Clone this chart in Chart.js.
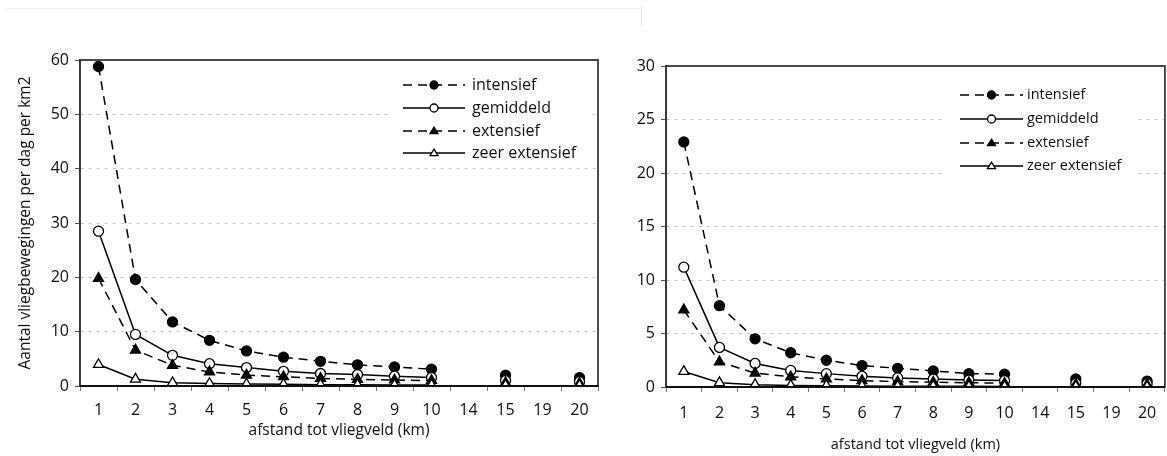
<!DOCTYPE html>
<html>
<head>
<meta charset="utf-8">
<script src="https://cdn.jsdelivr.net/npm/chart.js@4"></script>
<style>
  html, body { margin:0; padding:0; background:#fff; overflow:hidden; width:1167px; height:456px; }
  canvas { position:absolute; top:0; }
  #c1 { left:0; }
  #c2 { left:600px; }
  .faintv { position:absolute; left:641px; top:6px; width:1px; height:20px; background:#e2e2e2; }
  .fainth { position:absolute; left:6px; top:8px; width:635px; height:1px; background:#f2f2f2; }
</style>
</head>
<body>
<div class="fainth"></div>
<div class="faintv"></div>
<canvas id="c1" width="640" height="456"></canvas>
<canvas id="c2" width="572" height="456"></canvas>
<script>
// ---- data ----
const categories = ['1','2','3','4','5','6','7','8','9','10','14','15','19','20'];
const seriesNames = ['intensief','gemiddeld','extensief','zeer extensief'];

// left panel
const leftIntensief = [58.8, 19.6, 11.8, 8.4, 6.45, 5.3, 4.55, 3.9, 3.5, 3.1, null, 2.0, null, 1.55];
const leftGemiddeld = [28.5, 9.5, 5.65, 4.1, 3.4, 2.7, 2.3, 2.1, 1.8, 1.55, null, 1.0, null, 0.8];
const leftExtensief = [19.8, 6.6, 3.8, 2.6, 2.0, 1.7, 1.4, 1.2, 1.1, 1.0, null, 0.6, null, 0.5];
const leftZeerExtensief = [3.95, 1.25, 0.6, 0.45, 0.35, 0.3, 0.25, 0.22, 0.2, 0.18, null, 0.12, null, 0.1];

// right panel
const rightIntensief = [22.9, 7.6, 4.5, 3.2, 2.5, 2.0, 1.75, 1.5, 1.25, 1.2, null, 0.75, null, 0.55];
const rightGemiddeld = [11.2, 3.7, 2.2, 1.55, 1.25, 1.0, 0.85, 0.75, 0.65, 0.6, null, 0.35, null, 0.3];
const rightExtensief = [7.2, 2.35, 1.3, 0.95, 0.75, 0.6, 0.5, 0.45, 0.4, 0.35, null, 0.25, null, 0.2];
const rightZeerExtensief = [1.45, 0.4, 0.22, 0.15, 0.12, 0.1, 0.08, 0.07, 0.06, 0.05, null, 0.04, null, 0.03];

const leftYMax = 60, leftYStep = 10;
const rightYMax = 30, rightYStep = 5;
const yTitle = 'Aantal vliegbewegingen per dag per km2';
const xTitle = 'afstand tot vliegveld (km)';

// ---- styles ----
const FONT = '"Open Sans", "DejaVu Sans", sans-serif';
const INK = '#000';
const TXT = '#111';
const styles = [
  { dash:[9,6], pointStyle:'circle',   fill:INK,    r:5 },
  { dash:[],    pointStyle:'circle',   fill:'#fff', r:5 },
  { dash:[9,6], pointStyle:'triangle', fill:INK,    r:5.8 },
  { dash:[],    pointStyle:'triangle', fill:'#fff', r:5.8 }
];

function makeDatasets(arrs) {
  return arrs.map((d, i) => ({
    label: seriesNames[i],
    data: d,
    borderColor: INK,
    borderWidth: 1.5,
    borderDash: styles[i].dash,
    pointStyle: styles[i].pointStyle,
    pointRadius: styles[i].r,
    pointHoverRadius: styles[i].r,
    pointBackgroundColor: styles[i].fill,
    pointBorderColor: INK,
    pointBorderWidth: 1.3,
    spanGaps: false,
    tension: 0,
    fill: false
  })).reverse();
}

function drawMarker(ctx, style, x, y, r, fill) {
  ctx.save();
  ctx.setLineDash([]);
  ctx.lineWidth = 1.3;
  ctx.strokeStyle = INK;
  ctx.fillStyle = fill;
  ctx.beginPath();
  if (style === 'circle') {
    ctx.arc(x, y, r, 0, Math.PI * 2);
  } else {
    const h = r * 1.6;
    ctx.moveTo(x, y - h * 0.6);
    ctx.lineTo(x + r, y + h * 0.4);
    ctx.lineTo(x - r, y + h * 0.4);
    ctx.closePath();
  }
  ctx.fill();
  ctx.stroke();
  ctx.restore();
}

const customLegend = {
  id: 'customLegend',
  afterDraw(chart, args, opts) {
    const ctx = chart.ctx;
    ctx.save();
    ctx.fillStyle = '#fff';
    ctx.fillRect(opts.box[0], opts.box[1], opts.box[2], opts.box[3]);
    ctx.font = opts.fontSize + 'px ' + FONT;
    ctx.textBaseline = 'middle';
    ctx.textAlign = 'left';
    seriesNames.forEach((name, i) => {
      const y = opts.ys[i];
      ctx.strokeStyle = INK;
      ctx.lineWidth = 1.5;
      ctx.setLineDash(styles[i].dash);
      ctx.beginPath();
      ctx.moveTo(opts.x0, y);
      ctx.lineTo(opts.x1, y);
      ctx.stroke();
      const mx = (opts.x0 + opts.x1) / 2;
      drawMarker(ctx, styles[i].pointStyle, mx, y, opts.mr, styles[i].fill);
      ctx.fillStyle = TXT;
      ctx.fillText(name, opts.tx, y);
    });
    ctx.restore();
  }
};

const frame = {
  id: 'frame',
  afterDraw(chart) {
    const a = chart.chartArea, ctx = chart.ctx;
    ctx.save();
    ctx.strokeStyle = '#3a3a3a';
    ctx.lineWidth = 1.8;
    ctx.setLineDash([]);
    ctx.strokeRect(a.left, a.top, a.right - a.left, a.bottom - a.top);
    ctx.beginPath();
    ctx.strokeStyle = '#111';
    ctx.lineWidth = 2;
    ctx.moveTo(a.left, a.bottom);
    ctx.lineTo(a.right, a.bottom);
    ctx.stroke();
    ctx.restore();
  }
};

function makeChart(id, arrs, yMax, yStep, cfg) {
  return new Chart(document.getElementById(id), {
    type: 'line',
    data: { labels: categories, datasets: makeDatasets(arrs) },
    plugins: [customLegend, frame],
    options: {
      responsive: false,
      animation: false,
      devicePixelRatio: 1,
      events: [],
      layout: { padding: { left: 0, top: cfg.top, right: cfg.right, bottom: 0 } },
      plugins: {
        legend: { display: false },
        tooltip: { enabled: false },
        customLegend: cfg.legend
      },
      scales: {
        x: {
          type: 'category',
          offset: true,
          grid: { drawOnChartArea: false, drawTicks: true, tickLength: 5, offset: true, color: '#777', tickColor: '#777' },
          border: { display: true, color: '#111', width: 1.8 },
          ticks: { color: TXT, font: { family: FONT, size: 16 }, padding: cfg.xTickPad, maxRotation: 0, autoSkip: false },
          title: { display: true, text: xTitle, color: TXT, font: { family: FONT, size: cfg.xTitleSize }, padding: { top: 0, bottom: cfg.xTitlePad } },
          afterFit: s => { s.height = cfg.xHeight; }
        },
        y: {
          min: 0, max: yMax,
          ticks: { stepSize: yStep, color: TXT, font: { family: FONT, size: 16 }, padding: 6 },
          grid: { color: '#c4c4c4', lineWidth: 1, tickLength: 5, tickColor: '#555', tickBorderDash: [], drawTicks: true },
          border: { display: true, color: '#333', width: 1.8, dash: [3, 5] },
          title: cfg.yTitle ? { display: true, text: yTitle, color: TXT, font: { family: FONT, size: 15.5 }, padding: { top: 16, bottom: 0 } } : { display: false },
          afterFit: s => { s.width = cfg.yWidth; }
        }
      }
    }
  });
}

makeChart('c1', [leftIntensief, leftGemiddeld, leftExtensief, leftZeerExtensief], leftYMax, leftYStep, {
  top: 60, right: 42, yWidth: 80, xHeight: 70, xTickPad: 10, xTitleSize: 15.5, xTitlePad: 16, yTitle: true,
  legend: { box: [392, 72, 198, 92], x0: 403, x1: 465, tx: 472, ys: [85, 108, 131, 153], fontSize: 16, mr: 4 }
});

makeChart('c2', [rightIntensief, rightGemiddeld, rightExtensief, rightZeerExtensief], rightYMax, rightYStep, {
  top: 66, right: 0, yWidth: 66, xHeight: 69, xTickPad: 12, xTitleSize: 14.5, xTitlePad: 2, yTitle: false,
  legend: { box: [346, 80, 188, 100], x0: 360, x1: 423, tx: 427, ys: [95, 119, 143, 166], fontSize: 14.5, mr: 4 }
});
</script>
</body>
</html>
